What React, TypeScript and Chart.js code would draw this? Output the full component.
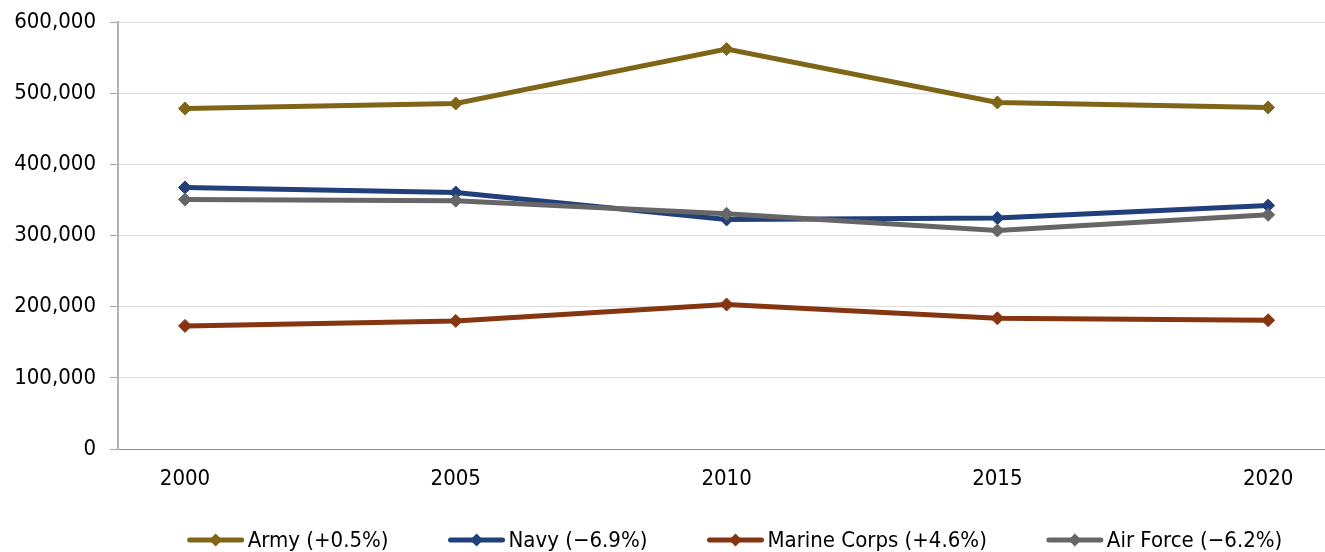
import React, { useEffect, useRef } from "react";
import { Chart, registerables } from "chart.js";

Chart.register(...registerables);

const years = [2000, 2005, 2010, 2015, 2020];
const seriesLabels = ["Army (+0.5%)", "Navy (\u22126.9%)", "Marine Corps (+4.6%)", "Air Force (\u22126.2%)"];
const army = [478500, 485500, 562000, 487000, 480000];
const navy = [367500, 360500, 322500, 324500, 342000];
const marineCorps = [173000, 180000, 203000, 183700, 181000];
const airForce = [350500, 349000, 330500, 307000, 329000];
const yTicks = [0, 100000, 200000, 300000, 400000, 500000, 600000];

const seriesValues = [army, navy, marineCorps, airForce];
const seriesColors = ["#7f6518", "#203f7b", "#863511", "#666666"];
const drawOrder = [2, 3, 4, 1];

const FONT = "'DejaVu Sans Condensed', 'DejaVu Sans', sans-serif";
const AXIS_FONT_SIZE = 22;
const LEGEND_FONT_SIZE = 22;

const legendPlugin = {
  id: "lineLegend",
  afterDraw(chart: any) {
    const ctx = chart.ctx as CanvasRenderingContext2D;
    ctx.save();
    ctx.font = `${LEGEND_FONT_SIZE}px ${FONT}`;
    const lineW = 56;
    const gapText = 4;
    const gapItem = 60;
    const items = chart.data.datasets.map((ds: any) => ({
      label: ds.label as string,
      color: ds.borderColor as string,
      w: ctx.measureText(ds.label).width,
    }));
    const total =
      items.reduce((s: number, it: any) => s + lineW + gapText + it.w, 0) +
      gapItem * (items.length - 1);
    let x = 735 - total / 2;
    const y = 540;
    for (const it of items) {
      ctx.strokeStyle = it.color;
      ctx.lineWidth = 5;
      ctx.lineCap = "round";
      ctx.beginPath();
      ctx.moveTo(x + 2, y);
      ctx.lineTo(x + lineW - 2, y);
      ctx.stroke();
      const cx = x + lineW / 2;
      const r = 6.5;
      ctx.fillStyle = it.color;
      ctx.beginPath();
      ctx.moveTo(cx, y - r);
      ctx.lineTo(cx + r, y);
      ctx.lineTo(cx, y + r);
      ctx.lineTo(cx - r, y);
      ctx.closePath();
      ctx.fill();
      ctx.fillStyle = "#000000";
      ctx.textBaseline = "middle";
      ctx.textAlign = "left";
      ctx.fillText(it.label, x + lineW + gapText, y + 1);
      x += lineW + gapText + it.w + gapItem;
    }
    ctx.restore();
  },
};

export default function App() {
  const canvasRef = useRef<HTMLCanvasElement | null>(null);

  useEffect(() => {
    if (!canvasRef.current) return;
    const chart = new Chart(canvasRef.current, {
      type: "line",
      data: {
        datasets: seriesValues.map((vals, i) => ({
          label: seriesLabels[i],
          data: years.map((yr, j) => ({ x: yr, y: vals[j] })),
          borderColor: seriesColors[i],
          backgroundColor: seriesColors[i],
          borderWidth: 5,
          pointStyle: "rectRot",
          pointRadius: 6.5,
          pointBorderWidth: 1,
          pointBorderColor: seriesColors[i],
          pointBackgroundColor: seriesColors[i],
          tension: 0,
          order: drawOrder[i],
        })),
      },
      options: {
        animation: false,
        responsive: false,
        maintainAspectRatio: false,
        layout: { autoPadding: false, padding: { top: 22, right: 0, bottom: 55, left: 0 } },
        plugins: {
          legend: { display: false },
          tooltip: { enabled: false },
        },
        scales: {
          x: {
            type: "linear",
            min: 1998.763,
            max: 2021.05,
            afterBuildTicks: (scale: any) => {
              scale.ticks = years.map((v) => ({ value: v }));
            },
            afterFit: (scale: any) => {
              scale.height = 48;
              scale.paddingLeft = 0;
              scale.paddingRight = 0;
            },
            grid: { display: false, drawTicks: false },
            border: { display: true, color: "#8c8c8c", width: 1 },
            ticks: {
              color: "#000000",
              font: { family: FONT, size: AXIS_FONT_SIZE },
              padding: 17,
              maxRotation: 0,
              autoSkip: false,
              callback: (v: any) => String(v),
            },
          },
          y: {
            type: "linear",
            min: 0,
            max: 600000,
            afterBuildTicks: (scale: any) => {
              scale.ticks = yTicks.map((v) => ({ value: v }));
            },
            afterFit: (scale: any) => {
              scale.width = 118;
              scale.paddingTop = 0;
              scale.paddingBottom = 0;
            },
            grid: {
              color: "#dedede",
              lineWidth: 1,
              tickColor: "#a6a6a6",
              tickLength: 8,
            },
            border: { display: true, color: "#b3b3b3", width: 2 },
            ticks: {
              color: "#000000",
              font: { family: FONT, size: AXIS_FONT_SIZE },
              padding: 14,
              callback: (v: any) => Number(v).toLocaleString("en-US"),
            },
          },
        },
      },
      plugins: [legendPlugin],
    });
    return () => chart.destroy();
  }, []);

  return (
    <div style={{ position: "absolute", left: 0, top: 0, width: 1325, height: 552, background: "#ffffff" }}>
      <canvas ref={canvasRef} width={1325} height={552} style={{ width: 1325, height: 552, display: "block" }} />
    </div>
  );
}
